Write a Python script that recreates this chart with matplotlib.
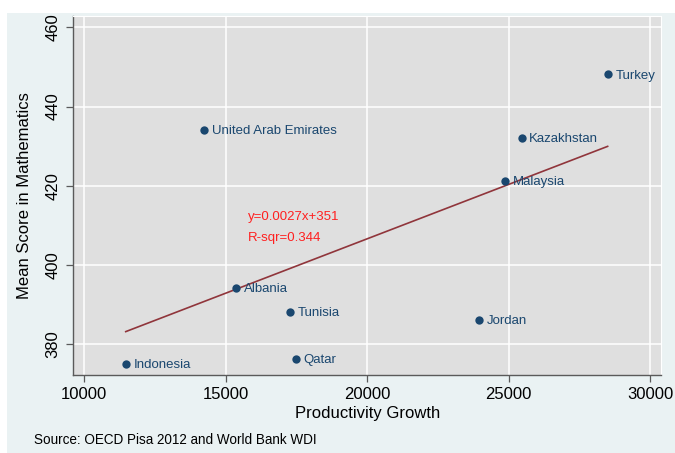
import numpy as np
import matplotlib
matplotlib.use("Agg")
import matplotlib.pyplot as plt
from matplotlib.patches import Rectangle

plt.rcParams['font.family'] = ['Liberation Sans', 'DejaVu Sans']

# Data
countries = ["Turkey", "Kazakhstan", "Malaysia", "United Arab Emirates", "Albania",
             "Tunisia", "Qatar", "Jordan", "Indonesia"]
productivity = [28494, 25453, 24865, 14233, 15364, 17274, 17486, 23957, 11464]
math_score = [448.2, 432.1, 421.2, 434.2, 394.2, 388.1, 376.2, 386.1, 375.0]

fit_text = ["y=0.0027x+351", "R-sqr=0.344"]
x_ticks = [10000, 15000, 20000, 25000, 30000]
y_ticks = [380, 400, 420, 440, 460]

navy = '#1a476f'
outer_bg = '#eaf2f3'
plot_bg = '#dfdfdf'
axis_col = '#5a5a5a'

fig = plt.figure(figsize=(6.75, 4.53), dpi=100)
fig.patch.set_facecolor('white')
# Stata-like graph region
fig.patches.append(Rectangle((7 / 675, 0), 1, 1 - 12.7 / 453, transform=fig.transFigure,
                             facecolor=outer_bg, edgecolor='none', zorder=-10))

ax = fig.add_axes([0.1086, 0.1728, 0.8711, 0.7919])
ax.set_facecolor(plot_bg)

# fitted line
x = np.array(productivity)
y = np.array(math_score)
slope, intercept = np.polyfit(x, y, 1)
xs = np.array([x.min(), x.max()])
ax.plot(xs, slope * xs + intercept, color='#90353b', lw=1.2, zorder=3)

ax.scatter(x, y, s=36, color=navy, zorder=4, linewidths=0)
for name, xv, yv in zip(countries, productivity, math_score):
    ax.annotate(name, (xv, yv), xytext=(5.5, -1), textcoords='offset points',
                va='center', ha='left', fontsize=9.5, color=navy, zorder=5)

ax.text(15789, 412.2, fit_text[0], color='#ff2020', fontsize=9.5, va='center', ha='left')
ax.text(15789, 406.8, fit_text[1], color='#ff2020', fontsize=9.5, va='center', ha='left')

ax.set_xlim(9611, 30390)
ax.set_ylim(372.2, 462.9)
ax.set_xticks(x_ticks)
ax.set_yticks(y_ticks)
ax.set_yticklabels([str(t) for t in y_ticks], rotation=90, va='center')
ax.grid(True, color='white', lw=1.1)
ax.set_axisbelow(True)

for s in ['top', 'right']:
    ax.spines[s].set_color('white')
    ax.spines[s].set_linewidth(0.8)
for s in ['left', 'bottom']:
    ax.spines[s].set_color(axis_col)
    ax.spines[s].set_linewidth(1.0)
ax.tick_params(axis='both', direction='out', length=5, width=0.9, color=axis_col,
               labelsize=12, labelcolor='black', pad=4)

ax.set_xlabel("Productivity Growth", fontsize=12)
ax.set_ylabel("Mean Score in Mathematics", fontsize=12)
ax.xaxis.set_label_coords(0.5, -0.087)
ax.yaxis.set_label_coords(-0.070, 0.5)

fig.text(34 / 675, 1 - 440 / 453, "Source: OECD Pisa 2012 and World Bank WDI",
         fontsize=9.75, va='center', ha='left')

fig.savefig("out.png", dpi=100, facecolor=fig.get_facecolor())
